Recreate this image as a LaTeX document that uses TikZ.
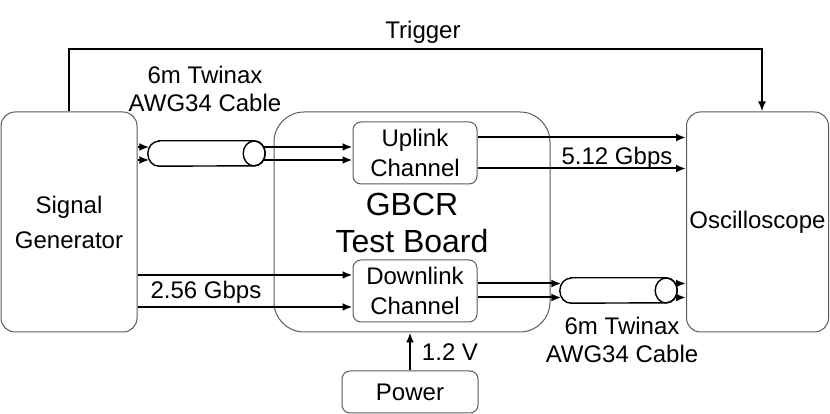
\documentclass[tikz,border=0pt]{standalone}
\usepackage{fontspec}
\setmainfont{Liberation Sans}
\usetikzlibrary{arrows.meta,positioning,calc}
\definecolor{benchedge}{RGB}{90,90,90}
\definecolor{benchdark}{RGB}{0,0,0}
\tikzset{
  bench box/.style={
    draw=benchedge,
    rounded corners=14pt,
    line width=1pt,
    inner sep=0pt,
    align=center,
    font=\fontsize{24}{35}\selectfont,
  },
  chan box/.style={
    draw=benchedge,
    rounded corners=8pt,
    line width=1pt,
    inner sep=0pt,
    align=center,
    font=\fontsize{24}{30}\selectfont,
  },
  cable/.style={
    inner sep=0pt,
    minimum width=117pt,
    minimum height=25pt,
  },
  cable line/.style={
    draw=benchdark,
    line width=1.4pt,
  },
  bench label/.style={
    align=center,
    inner sep=0pt,
    font=\fontsize{24}{28}\selectfont,
  },
  bench arrow/.style={
    -{Latex[length=10pt,width=8pt]},
    line width=2pt,
    draw=benchdark,
  },
}
\newcommand{\twinax}[1]{%
  \draw[cable line] ([xshift=11pt]#1.north west) -- ([xshift=-11pt]#1.north east)
    arc[start angle=90,end angle=-90,x radius=11pt,y radius=12.5pt]
    -- ([xshift=11pt]#1.south west)
    arc[start angle=270,end angle=90,x radius=11pt,y radius=12.5pt] -- cycle;
  \draw[cable line] ([xshift=-11pt]#1.east) ellipse[x radius=11pt,y radius=12.5pt];
}
\begin{document}
\begin{tikzpicture}[x=1pt,y=1pt]
  \useasboundingbox (0,0) rectangle (830,414);
  % boxes
  \node[bench box, minimum width=136pt, minimum height=220pt] (gen) at (69,192) {Signal\\Generator};
  \node[bench box, rounded corners=30pt, minimum width=276pt, minimum height=220pt] (board) at (412,192) {};
  \node[bench box, minimum width=142pt, minimum height=220pt] (osc) at (757.5,192) {Oscilloscope};
  \node[chan box, minimum width=124pt, minimum height=62pt] (up) at (415,261) {Uplink\\Channel};
  \node[chan box, minimum width=124pt, minimum height=62pt] (down) at (415,123) {Downlink\\Channel};
  \node[chan box, minimum width=136pt, minimum height=42pt] (power) at (410,22) {Power};
  \node[bench label, font=\fontsize{32}{37}\selectfont] (gbcr) at (412,191) {GBCR\\Test Board};
  % twinax cables
  \node[cable] (cab1) at (206.5,260.5) {};
  \node[cable] (cab2) at (618.5,123.5) {};
  \twinax{cab1}
  \twinax{cab2}
  % labels
  \node[bench label] (trig lbl) at (423,382) {Trigger};
  \node[bench label] (cab1 lbl) at (205,325) {6m Twinax\\AWG34 Cable};
  \node[bench label] (cab2 lbl) at (622,74) {6m Twinax\\AWG34 Cable};
  \node[bench label] (up rate) at (617,256) {5.12 Gbps};
  \node[bench label] (down rate) at (206,122) {2.56 Gbps};
  \node[bench label] (volt) at (450,62) {1.2 V};
  % trigger
  \coordinate (trig) at (762,365);
  \draw[bench arrow] (gen.north) |- (trig) -- (trig |- osc.north);
  % uplink path
  \coordinate (c1a) at ($(cab1.west)+(1.5,6.5)$);
  \coordinate (c1b) at ($(cab1.west)+(1.5,-6.5)$);
  \coordinate (c1c) at ($(cab1.east)+(-1.5,6.5)$);
  \coordinate (c1d) at ($(cab1.east)+(-1.5,-6.5)$);
  \draw[bench arrow] (gen.east |- c1a) -- (c1a);
  \draw[bench arrow] (gen.east |- c1b) -- (c1b);
  \draw[bench arrow] (c1c) -- (up.west |- c1c);
  \draw[bench arrow] (c1d) -- (up.west |- c1d);
  \draw[bench arrow] ($(up.east)+(0,15.5)$) -- ($(osc.west |- up.east)+(0,15.5)$);
  \draw[bench arrow] ($(up.east)+(0,-15.5)$) -- ($(osc.west |- up.east)+(0,-15.5)$);
  % downlink path
  \draw[bench arrow] ($(gen.east |- down.west)+(0,16)$) -- ($(down.west)+(0,16)$);
  \draw[bench arrow] ($(gen.east |- down.west)+(0,-16)$) -- ($(down.west)+(0,-16)$);
  \coordinate (c2a) at ($(cab2.west)+(1.5,7)$);
  \coordinate (c2b) at ($(cab2.west)+(1.5,-7)$);
  \coordinate (c2c) at ($(cab2.east)+(-1.5,7)$);
  \coordinate (c2d) at ($(cab2.east)+(-1.5,-7)$);
  \draw[bench arrow] (down.east |- c2a) -- (c2a);
  \draw[bench arrow] (down.east |- c2b) -- (c2b);
  \draw[bench arrow] (c2c) -- (osc.west |- c2c);
  \draw[bench arrow] (c2d) -- (osc.west |- c2d);
  % supply
  \draw[bench arrow] (power.north) -- (power.north |- board.south);
\end{tikzpicture}
\end{document}
